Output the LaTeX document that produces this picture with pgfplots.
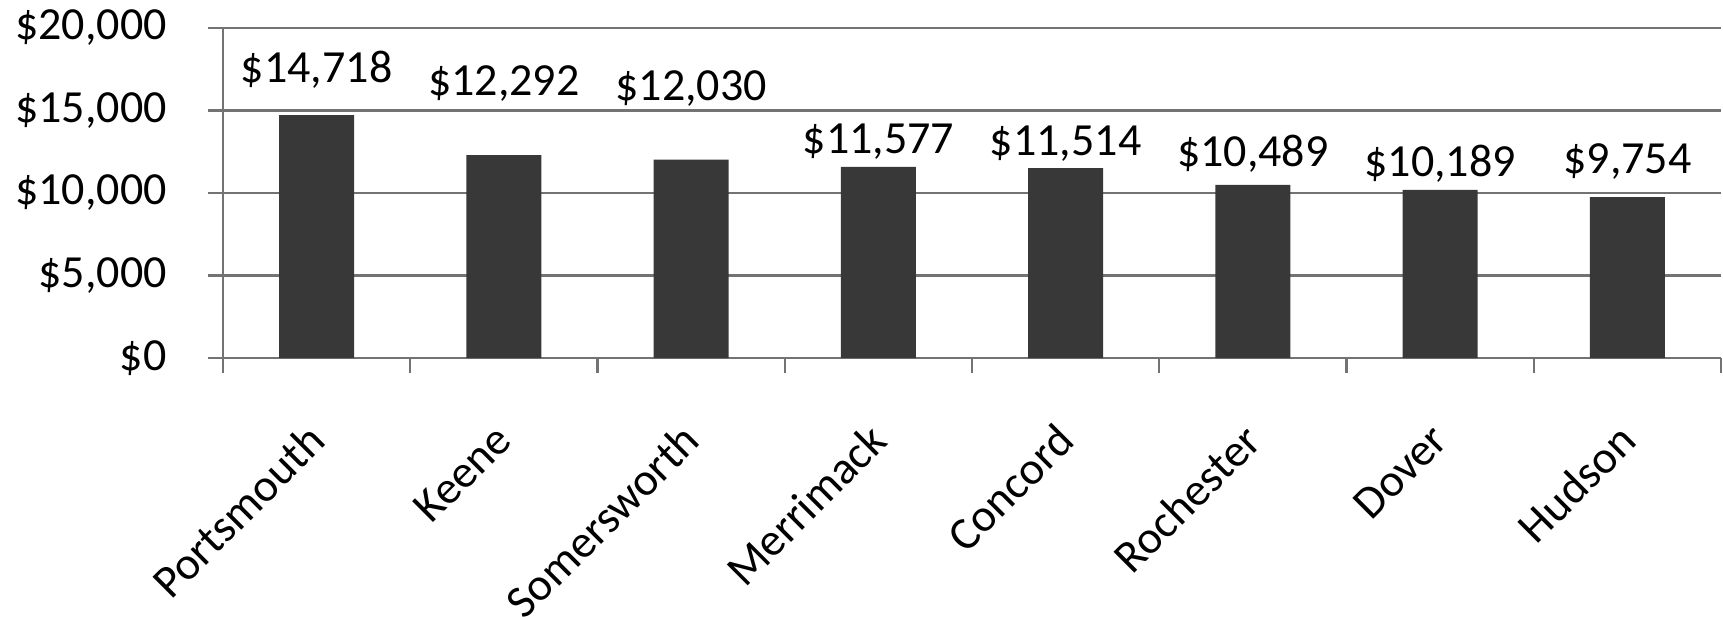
\documentclass[border=0pt]{standalone}
\usepackage{pgfplots}
\pgfplotsset{compat=1.18}
\usepackage{fontspec}
\setmainfont{Carlito}
\newcommand{\cfont}{\fontsize{23}{27}\selectfont}
\begin{document}
\begin{tikzpicture}
\begin{axis}[
  name=ax,
  scale only axis, width=749pt, height=165pt,
  xmin=-0.5, xmax=7.5, ymin=0, ymax=20000,
  axis x line=bottom, axis y line=left,
  axis line style={-, draw=black!55, line width=1.2pt},
  ymajorgrids, grid style={draw=black!55, line width=1.2pt},
  tick style={draw=black!55, line width=1.2pt},
  tick align=outside, major tick length=7.5pt,
  xtick={-0.5,0.5,...,7.5},
  x tick label as interval,
  xticklabels={Portsmouth,Keene,Somersworth,Merrimack,Concord,Rochester,Dover,Hudson},
  xticklabel style={rotate=45, anchor=east, inner sep=0pt, font=\cfont, xshift=-21pt, yshift=-21pt},
  ytick={0,5000,10000,15000,20000},
  scaled y ticks=false,
  /pgf/number format/.cd, 1000 sep={,}, assume math mode=true,
  /pgfplots/.cd,
  yticklabel={\$\pgfmathprintnumber{\tick}},
  yticklabel style={anchor=east, inner sep=0pt, font=\cfont, xshift=-20.5pt},
]
\addplot[ybar, bar width=37.5pt, fill=black!78, draw=none] coordinates {
  (0,14718) (1,12292) (2,12030) (3,11577) (4,11514) (5,10489) (6,10189) (7,9754)
};
\addplot[draw=none, mark=none, nodes near coords, point meta=explicit symbolic,
  nodes near coords style={anchor=base, inner sep=0pt, font=\cfont, text=black}]
  table[meta=lab] {
x y lab
0 16727 \$14,718
1 15879 \$12,292
2 15636 \$12,030
3 12424 \$11,577
4 12303 \$11,514
5 11576 \$10,489
6 10970 \$10,189
7 11212 \$9,754
};
\end{axis}
\pgfresetboundingbox
\path[use as bounding box] ([xshift=-111.5pt,yshift=-129pt]ax.south west) rectangle ([xshift=1pt,yshift=14pt]ax.north east);
\end{tikzpicture}
\end{document}
